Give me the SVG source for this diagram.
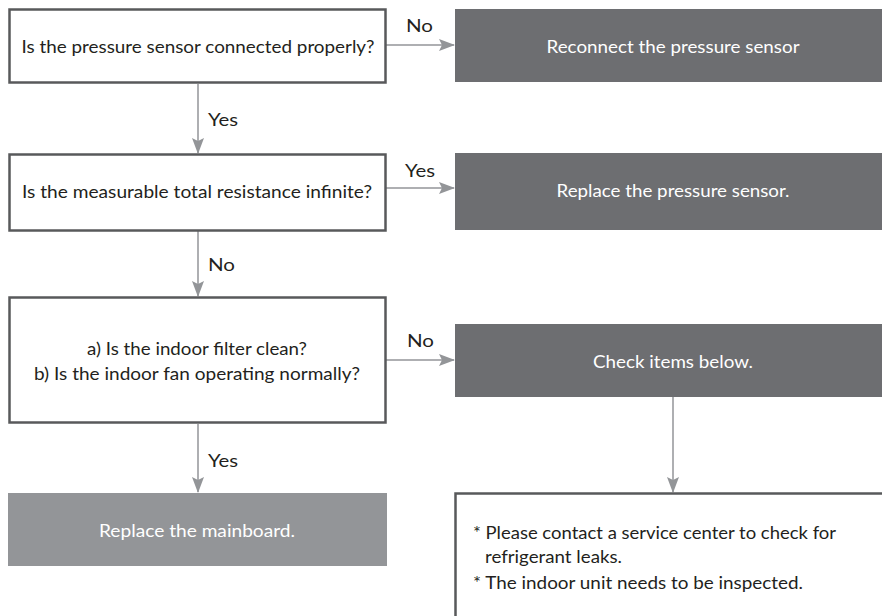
<svg xmlns="http://www.w3.org/2000/svg" width="882" height="616" viewBox="0 0 882 616">
<defs>
<style>
.q{fill:#fff;stroke:#58595b;stroke-width:2.5}
.d{fill:#6d6e71}
.g{fill:#939598}
.t{font-family:Lato,"Open Sans","Liberation Sans",sans-serif;font-size:18px;fill:#231f20}
.w{font-family:Lato,"Open Sans","Liberation Sans",sans-serif;font-size:18px;fill:#fff}
.c{stroke:#939598;stroke-width:1.5;fill:none}
.ah{fill:#939598}
</style>
<marker id="arr" markerWidth="16" markerHeight="12" refX="15" refY="6" orient="auto" markerUnits="userSpaceOnUse">
<path d="M0,0 L16,6 L0,12 L3,6 Z" class="ah"/>
</marker>
</defs>
<rect width="882" height="616" fill="#fff"/>
<g id="connectors">
<line class="c" x1="386" y1="45" x2="454" y2="45" marker-end="url(#arr)"/>
<text class="t" x="406" y="32" textLength="27" lengthAdjust="spacingAndGlyphs">No</text>
<line class="c" x1="198" y1="84" x2="198" y2="153" marker-end="url(#arr)"/>
<text class="t" x="208" y="126" textLength="30" lengthAdjust="spacingAndGlyphs">Yes</text>
<line class="c" x1="386" y1="188" x2="454" y2="188" marker-end="url(#arr)"/>
<text class="t" x="405" y="177" textLength="30" lengthAdjust="spacingAndGlyphs">Yes</text>
<line class="c" x1="198" y1="231" x2="198" y2="296" marker-end="url(#arr)"/>
<text class="t" x="208" y="271" textLength="27" lengthAdjust="spacingAndGlyphs">No</text>
<line class="c" x1="386" y1="360" x2="454" y2="360" marker-end="url(#arr)"/>
<text class="t" x="407" y="347" textLength="27" lengthAdjust="spacingAndGlyphs">No</text>
<line class="c" x1="198" y1="424" x2="198" y2="492" marker-end="url(#arr)"/>
<text class="t" x="208" y="467" textLength="30" lengthAdjust="spacingAndGlyphs">Yes</text>
<line class="c" x1="673" y1="397" x2="673" y2="492" marker-end="url(#arr)"/>
</g>
<g id="q1">
<rect class="q" x="9.5" y="9.5" width="376" height="73"/>
<text class="t" x="198" y="53" text-anchor="middle" textLength="353" lengthAdjust="spacingAndGlyphs">Is the pressure sensor connected properly?</text>
</g>
<g id="a1">
<rect class="d" x="455" y="9" width="427" height="73"/>
<text class="w" x="673" y="53" text-anchor="middle" textLength="253" lengthAdjust="spacingAndGlyphs">Reconnect the pressure sensor</text>
</g>
<g id="q2">
<rect class="q" x="9.5" y="154.5" width="376" height="76"/>
<text class="t" x="197" y="198" text-anchor="middle" textLength="350" lengthAdjust="spacingAndGlyphs">Is the measurable total resistance infinite?</text>
</g>
<g id="a2">
<rect class="d" x="455" y="153" width="427" height="77"/>
<text class="w" x="673" y="197" text-anchor="middle" textLength="233" lengthAdjust="spacingAndGlyphs">Replace the pressure sensor.</text>
</g>
<g id="q3">
<rect class="q" x="9.5" y="297.5" width="376" height="125"/>
<text class="t" x="197" y="355" text-anchor="middle" textLength="220" lengthAdjust="spacingAndGlyphs">a) Is the indoor filter clean?</text>
<text class="t" x="197" y="380" text-anchor="middle" textLength="326" lengthAdjust="spacingAndGlyphs">b) Is the indoor fan operating normally?</text>
</g>
<g id="a3">
<rect class="d" x="455" y="324" width="427" height="73"/>
<text class="w" x="673" y="368" text-anchor="middle" textLength="160" lengthAdjust="spacingAndGlyphs">Check items below.</text>
</g>
<g id="a4">
<rect class="g" x="8" y="493" width="379" height="73"/>
<text class="w" x="197" y="537" text-anchor="middle" textLength="196" lengthAdjust="spacingAndGlyphs">Replace the mainboard.</text>
</g>
<g id="a5">
<rect class="q" x="455.5" y="493.5" width="440" height="140"/>
<text class="t" x="473" y="539" textLength="363" lengthAdjust="spacingAndGlyphs">* Please contact a service center to check for</text>
<text class="t" x="485" y="563" textLength="137" lengthAdjust="spacingAndGlyphs">refrigerant leaks.</text>
<text class="t" x="473" y="589" textLength="330" lengthAdjust="spacingAndGlyphs">* The indoor unit needs to be inspected.</text>
</g>
</svg>
